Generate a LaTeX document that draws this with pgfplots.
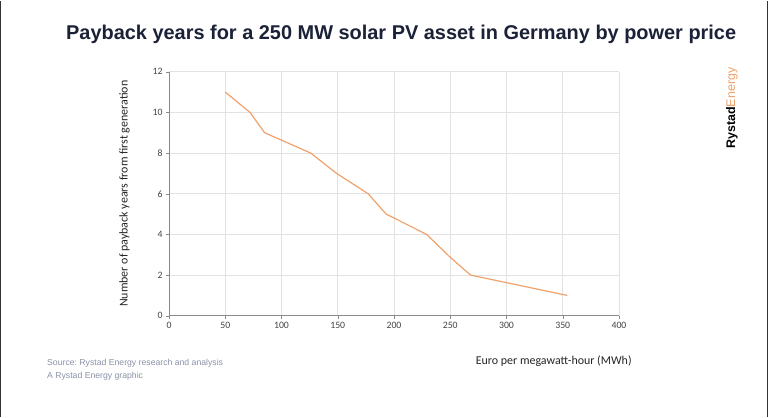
\documentclass[border=0pt]{standalone}
\usepackage{pgfplots}
\pgfplotsset{compat=1.18}
\usepackage{fontspec}
\setmainfont{Liberation Sans}
\newfontfamily\carlito{Carlito}
\definecolor{titlec}{HTML}{1B2238}
\definecolor{linec}{HTML}{F0A26C}
\definecolor{gridc}{HTML}{E2E2E2}
\definecolor{axc}{HTML}{8A8A8A}
\definecolor{tickc}{HTML}{444444}
\definecolor{srcc}{HTML}{8C93A8}
\definecolor{orangec}{HTML}{F0A26C}
\begin{document}
\frenchspacing
\begin{tikzpicture}[x=1bp,y=1bp]
\fill[white] (0,0) rectangle (768,416);
\draw[black!80,line width=1.5bp] (0.75,0) -- (0.75,416);
\draw[black!80,line width=1.5bp] (767.25,0) -- (767.25,416);
\node[anchor=base west,font=\bfseries\fontsize{20}{23}\selectfont,text=titlec,inner sep=0] at (66,377) {Payback years for a 250 MW solar PV asset in Germany by power price};
\begin{axis}[
  at={(169bp,101bp)}, anchor=south west,
  scale only axis, width=450bp, height=244bp,
  xmin=0, xmax=400, ymin=0, ymax=12,
  xtick={0,50,...,400}, ytick={0,2,...,12},
  axis lines=left, axis line style={-, draw=axc, line width=0.8pt},
  grid=major, major grid style={draw=gridc, line width=0.6pt},
  tick align=outside, major tick length=3bp,
  tick style={draw=axc},
  tick label style={font=\carlito\fontsize{9.8}{11}\selectfont, text=tickc},
  /pgf/number format/assume math mode=true,
  xlabel={Euro per megawatt-hour (MWh)},
  xlabel style={font=\carlito\fontsize{12}{14}\selectfont, text=black!85, at={(ticklabel cs:0.855)}, anchor=north, yshift=-20bp},
  ylabel={Number of payback years from first generation},
  ylabel style={font=\carlito\fontsize{12}{14}\selectfont, text=black!85, yshift=16bp},
  clip=false,
]
\addplot[color=linec, line width=1.2pt] coordinates {
(50,11) (72,10) (85,9) (126,8) (149,7) (177,6) (193,5) (229,4) (249.5,2.9) (268,2) (354,1)
};
\end{axis}
\node[anchor=base west,font=\fontsize{8.7}{10}\selectfont,text=srcc,inner sep=0] at (47,51) {Source: Rystad Energy research and analysis};
\node[anchor=base west,font=\fontsize{8.7}{10}\selectfont,text=srcc,inner sep=0] at (47,38) {A Rystad Energy graphic};
\node[rotate=90,anchor=base west,inner sep=0,font=\fontsize{12.5}{14}\selectfont] at (735,268) {\textbf{Rystad}\textcolor{orangec}{Energy}};
\end{tikzpicture}
\end{document}
